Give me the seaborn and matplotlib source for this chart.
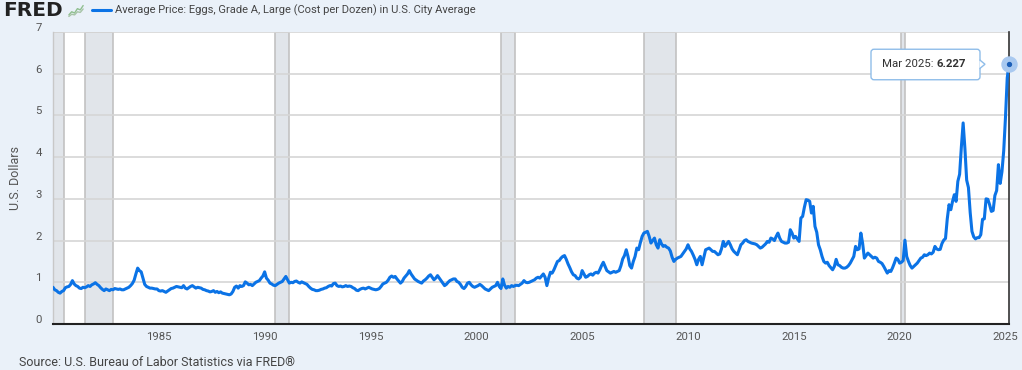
import numpy as np
import pandas as pd
import matplotlib
matplotlib.use("Agg")
import matplotlib.pyplot as plt
import matplotlib.transforms as mtransforms
from matplotlib.patches import FancyBboxPatch, Polygon
from matplotlib.lines import Line2D
import seaborn as sns

# ---------------- data (monthly, starting Jan 1980) ----------------
start_month = "1980-01-01"

prices_1980s = [
    0.88, 0.82, 0.80, 0.76, 0.74, 0.78, 0.80, 0.87, 0.89, 0.90, 0.95, 1.04,
    0.96, 0.92, 0.90, 0.86, 0.85, 0.88, 0.87, 0.89, 0.92, 0.90, 0.94, 0.96,
    0.99, 0.95, 0.92, 0.87, 0.83, 0.80, 0.84, 0.82, 0.80, 0.83, 0.82, 0.85,
    0.84, 0.83, 0.84, 0.82, 0.82, 0.84, 0.86, 0.88, 0.92, 0.97, 1.05, 1.20,
    1.34, 1.28, 1.25, 1.10, 0.95, 0.90, 0.88, 0.86, 0.86, 0.85, 0.84, 0.84,
    0.80, 0.79, 0.80, 0.78, 0.76, 0.79, 0.82, 0.85, 0.86, 0.88, 0.90, 0.89,
    0.88, 0.87, 0.92, 0.86, 0.84, 0.87, 0.90, 0.92, 0.89, 0.86, 0.88, 0.87,
    0.86, 0.83, 0.82, 0.80, 0.79, 0.77, 0.78, 0.80, 0.76, 0.78, 0.75, 0.77,
    0.74, 0.73, 0.72, 0.71, 0.70, 0.72, 0.78, 0.88, 0.91, 0.86, 0.92, 0.90,
    0.92, 1.01, 0.98, 0.94, 0.95, 0.92, 0.96, 1.00, 1.02, 1.04, 1.10, 1.15,
]
prices_1990s = [
    1.25, 1.10, 1.05, 0.98, 0.96, 0.93, 0.92, 0.95, 0.98, 1.00, 1.02, 1.08,
    1.14, 1.06, 0.98, 1.00, 0.99, 1.02, 1.03, 1.00, 0.98, 1.01, 0.99, 0.97,
    0.95, 0.90, 0.86, 0.83, 0.82, 0.80, 0.80, 0.81, 0.83, 0.84, 0.86, 0.87,
    0.90, 0.92, 0.91, 0.97, 0.98, 0.92, 0.90, 0.91, 0.89, 0.90, 0.92, 0.90,
    0.91, 0.90, 0.87, 0.85, 0.81, 0.80, 0.83, 0.85, 0.86, 0.84, 0.86, 0.88,
    0.86, 0.84, 0.83, 0.82, 0.83, 0.85, 0.90, 0.96, 0.98, 1.00, 1.05, 1.12,
    1.15, 1.12, 1.14, 1.08, 1.03, 0.98, 1.02, 1.10, 1.15, 1.20, 1.28, 1.20,
    1.14, 1.08, 1.05, 1.02, 1.00, 0.98, 1.03, 1.06, 1.10, 1.15, 1.18, 1.12,
    1.06, 1.10, 1.16, 1.10, 1.04, 0.98, 0.92, 0.95, 1.00, 1.04, 1.06, 1.08,
    1.08, 1.02, 1.00, 0.95, 0.88, 0.85, 0.90, 0.98, 1.00, 0.94, 0.90, 0.88,
]
prices_2000s = [
    0.90, 0.92, 0.95, 0.92, 0.88, 0.84, 0.82, 0.80, 0.84, 0.88, 0.90, 0.92,
    1.00, 0.90, 0.85, 1.08, 0.93, 0.86, 0.90, 0.88, 0.92, 0.90, 0.92, 0.93,
    0.92, 0.95, 0.98, 1.04, 1.00, 0.99, 1.00, 1.02, 1.04, 1.06, 1.10, 1.12,
    1.10, 1.15, 1.20, 1.12, 0.92, 1.10, 1.24, 1.22, 1.30, 1.40, 1.50, 1.52,
    1.58, 1.62, 1.64, 1.55, 1.44, 1.35, 1.25, 1.18, 1.16, 1.10, 1.08, 1.12,
    1.28, 1.20, 1.12, 1.14, 1.18, 1.20, 1.17, 1.22, 1.24, 1.22, 1.30, 1.40,
    1.48, 1.38, 1.28, 1.25, 1.22, 1.24, 1.26, 1.24, 1.26, 1.28, 1.40, 1.56,
    1.64, 1.78, 1.62, 1.40, 1.34, 1.50, 1.62, 1.82, 1.78, 1.95, 2.10, 2.18,
    2.20, 2.22, 2.10, 1.94, 2.00, 2.06, 1.90, 1.82, 2.02, 1.92, 1.86, 1.88,
    1.84, 1.82, 1.75, 1.60, 1.50, 1.55, 1.58, 1.60, 1.62, 1.68, 1.74, 1.80,
]
prices_2010s = [
    1.90, 1.80, 1.74, 1.65, 1.55, 1.42, 1.55, 1.62, 1.42, 1.60, 1.78, 1.80,
    1.82, 1.78, 1.74, 1.74, 1.70, 1.66, 1.68, 1.80, 1.98, 1.86, 1.92, 1.98,
    1.90, 1.80, 1.74, 1.70, 1.66, 1.78, 1.90, 1.94, 2.00, 2.02, 1.98, 1.96,
    1.94, 1.93, 1.92, 1.90, 1.86, 1.82, 1.84, 1.88, 1.92, 1.98, 1.96, 2.06,
    2.04, 2.00, 2.10, 2.18, 2.06, 1.98, 1.96, 1.94, 1.94, 1.96, 2.26, 2.18,
    2.06, 2.10, 2.04, 1.98, 2.54, 2.58, 2.80, 2.98, 2.97, 2.94, 2.66, 2.82,
    2.34, 2.20, 1.90, 1.78, 1.62, 1.50, 1.46, 1.48, 1.40, 1.35, 1.30, 1.38,
    1.55, 1.42, 1.40, 1.36, 1.34, 1.34, 1.36, 1.40, 1.46, 1.54, 1.62, 1.86,
    1.78, 1.80, 2.18, 1.94, 1.58, 1.64, 1.70, 1.66, 1.62, 1.58, 1.60, 1.58,
    1.50, 1.48, 1.45, 1.38, 1.30, 1.22, 1.28, 1.26, 1.35, 1.46, 1.58, 1.55,
]
prices_2020s = [
    1.46, 1.48, 1.52, 2.01, 1.62, 1.50, 1.40, 1.34, 1.38, 1.42, 1.46, 1.52,
    1.58, 1.60, 1.66, 1.64, 1.66, 1.70, 1.68, 1.72, 1.86, 1.80, 1.78, 1.79,
    1.93, 2.01, 2.05, 2.52, 2.86, 2.74, 2.94, 3.10, 2.94, 3.42, 3.59, 4.25,
    4.82, 4.21, 3.45, 3.27, 2.67, 2.22, 2.09, 2.04, 2.07, 2.07, 2.14, 2.51,
    2.52, 3.00, 2.99, 2.86, 2.70, 2.72, 3.08, 3.20, 3.82, 3.37, 3.65, 4.15,
    4.95, 5.90, 6.227,
]

recession_starts = ["1980-01-01", "1981-07-01", "1990-07-01", "2001-03-01", "2007-12-01", "2020-02-01"]
recession_ends = ["1980-07-01", "1982-11-01", "1991-03-01", "2001-11-01", "2009-06-01", "2020-04-01"]

x_tick_years = [1985, 1990, 1995, 2000, 2005, 2010, 2015, 2020, 2025]
y_ticks = [0, 1, 2, 3, 4, 5, 6, 7]

series_title = "Average Price: Eggs, Grade A, Large (Cost per Dozen) in U.S. City Average"
y_label = "U.S. Dollars"
source_text = "Source: U.S. Bureau of Labor Statistics via FRED\u00ae"

# ---------------- prep ----------------
prices = prices_1980s + prices_1990s + prices_2000s + prices_2010s + prices_2020s
dates = pd.date_range(start_month, periods=len(prices), freq="MS")


def dec_year(d):
    d = pd.Timestamp(d)
    return d.year + (d.month - 1) / 12.0


df = pd.DataFrame({"t": [dec_year(d) for d in dates], "price": prices})

BG = "#eaf1f9"
LINE = "#0b73e6"
TXT = "#555555"

sns.set_style("white")
plt.rcParams["font.family"] = ["Roboto", "DejaVu Sans"]

W, H = 1022, 370
fig = plt.figure(figsize=(W / 100, H / 100), dpi=100, facecolor=BG)
ax = fig.add_axes([53 / W, 46 / H, 956 / W, 292 / H])
ax.set_facecolor("white")

for s, e in zip(recession_starts, recession_ends):
    ax.axvspan(dec_year(s), dec_year(e), facecolor="#e1e5ea", edgecolor="#c2c2c2",
               linewidth=1.2, zorder=0.5)

ax.set_yticks(y_ticks)
ax.grid(axis="y", color="#d6d6d6", linewidth=1.2, zorder=1)
ax.grid(axis="x", visible=False)

sns.lineplot(data=df, x="t", y="price", ax=ax, color=LINE, linewidth=2.2, zorder=3)

ax.set_xlim(df["t"].iloc[0], df["t"].iloc[-1])
ax.set_ylim(0, 7)
ax.set_xticks(x_tick_years)
ax.set_xticklabels([str(y) for y in x_tick_years])
ax.set_xlabel("")
ax.set_ylabel(y_label, fontsize=9, color=TXT)
ax.yaxis.set_label_coords(-(53 - 22) / 956, 0.5)

ax.tick_params(axis="both", length=0, labelsize=8.2, labelcolor=TXT)
ax.tick_params(axis="x", pad=6)
ax.tick_params(axis="y", pad=8)
for lab in ax.get_yticklabels():
    lab.set_transform(lab.get_transform() + mtransforms.ScaledTranslation(0, 5 / 100, fig.dpi_scale_trans))

ax.spines["top"].set_visible(False)
ax.spines["bottom"].set_color("#222222")
ax.spines["bottom"].set_linewidth(1.5)
ax.spines["right"].set_visible(True)
ax.spines["right"].set_color("#333333")
ax.spines["right"].set_linewidth(1.2)
ax.spines["left"].set_color("#c8c8c8")
ax.spines["left"].set_linewidth(1.0)

# hover marker at last point
t_last, v_last = df["t"].iloc[-1], df["price"].iloc[-1]
ax.plot([t_last], [v_last], "o", ms=10.8, color="#a9c9f0", mec="#a9c9f0", clip_on=False, zorder=5)
ax.plot([t_last], [v_last], "o", ms=2.8, color="#1c5fb8", clip_on=False, zorder=6)

# tooltip (display pixel coords)
ident = mtransforms.IdentityTransform()
px, py = ax.transData.transform((t_last, v_last))
box = FancyBboxPatch((px - 138, py - 15.5), 109, 30.5,
                     boxstyle="round,pad=0,rounding_size=3",
                     fc="white", ec="#8fbde9", lw=1.0, transform=ident, zorder=10)
fig.add_artist(box)
ptr = Polygon([(px - 29.5, py + 4.5), (px - 24, py), (px - 29.5, py - 4.5)], closed=False,
              fc="white", ec="#8fbde9", lw=1.0, transform=ident, zorder=11)
fig.add_artist(ptr)
fig.text(px - 127, py, "Mar 2025:", transform=ident, fontsize=8.2, color="#333333",
         va="center", ha="left", zorder=12)
fig.text(px - 72, py, f"{v_last:.3f}", transform=ident, fontsize=8.2, color="#333333",
         fontweight="bold", va="center", ha="left", zorder=12)

# header
fig.text(3 / W, 1 - 10 / H, "FRED", fontsize=14.5, fontweight="heavy", color="#222222",
         va="center", ha="left", family=["DejaVu Sans"])
icon = fig.add_axes([68 / W, 1 - 18 / H, 16 / W, 14 / H])
icon.set_facecolor("#f4f7f4")
icon_x = [0, 1, 2, 3, 4, 5]
icon.plot(icon_x, [1, 2, 1.6, 3, 2.6, 4], color="#8fbf8f", lw=1)
icon.plot(icon_x, [0.5, 1.2, 1.0, 2.0, 1.8, 2.9], color="#a8c4a8", lw=1)
icon.set_xlim(-0.3, 5.3)
icon.set_ylim(0, 4.5)
icon.axis("off")

fig.add_artist(Line2D([92 / W, 111 / W], [1 - 10 / H, 1 - 10 / H], transform=fig.transFigure,
                      color=LINE, lw=2.2))
fig.text(115 / W, 1 - 10 / H, series_title, fontsize=8, color="#444444", va="center", ha="left")

fig.text(19 / W, 1 - 362 / H, source_text, fontsize=9, color="#444444", va="center", ha="left")

fig.savefig("out.png", dpi=100, facecolor=BG)
